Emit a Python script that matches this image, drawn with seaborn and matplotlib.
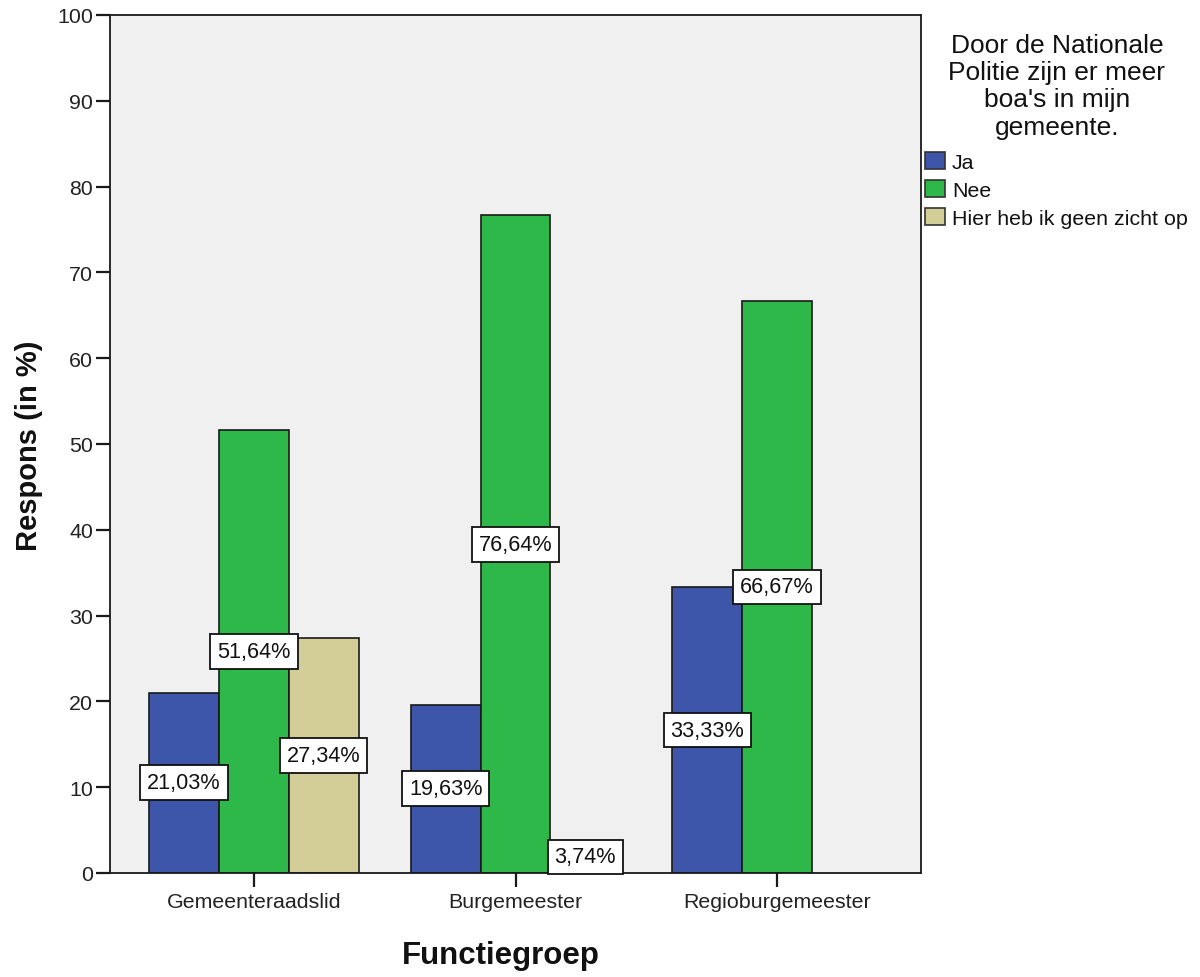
import numpy as np
import pandas as pd
import matplotlib
matplotlib.use("Agg")
import matplotlib.pyplot as plt
from matplotlib.patches import Patch
import seaborn as sns

# ---- data ----
categories = ["Gemeenteraadslid", "Burgemeester", "Regioburgemeester"]
responses = ["Ja", "Nee", "Hier heb ik geen zicht op"]
ja = [21.03, 19.63, 33.33]
nee = [51.64, 76.64, 66.67]
hier = [27.34, 3.74, np.nan]
colors = ["#3E56AA", "#2EB84A", "#D3CE97"]
yticks = list(range(0, 101, 10))
legend_title = "Door de Nationale\nPolitie zijn er meer\nboa's in mijn\ngemeente."

rows = []
for resp, vals in zip(responses, [ja, nee, hier]):
    for cat, v in zip(categories, vals):
        if not np.isnan(v):
            rows.append({"Functiegroep": cat, "Antwoord": resp, "Respons": v})
df = pd.DataFrame(rows)

sns.set_style("white")
plt.rcParams["font.family"] = ["Liberation Sans", "DejaVu Sans"]

fig = plt.figure(figsize=(12, 9.78), dpi=100)
ax = fig.add_axes([110 / 1200, 1 - 874 / 978, 811 / 1200, 858 / 978])

sns.barplot(data=df, x="Functiegroep", y="Respons", hue="Antwoord",
            order=categories, hue_order=responses, palette=colors,
            width=0.8, saturation=1, errorbar=None, edgecolor="#1a1a1a",
            linewidth=1.2, legend=False, ax=ax)

ax.set_facecolor("#F0F0F0")
ax.set_ylim(0, 100)
ax.set_xlim(-0.55, 2.55)
ax.set_yticks(yticks)
ax.set_yticklabels([str(t) for t in yticks])
for s in ax.spines.values():
    s.set_visible(True)
    s.set_color("#1a1a1a")
    s.set_linewidth(1.3)
ax.tick_params(axis="both", direction="out", length=10, width=1.6,
               labelsize=15.4, labelcolor="#222222", color="#1a1a1a",
               bottom=True, left=True, top=False, right=False)
ax.tick_params(axis="y", pad=2)
ax.tick_params(axis="x", pad=4)

# value labels
for container in ax.containers:
    for bar in container:
        h = bar.get_height()
        if h is None or np.isnan(h):
            continue
        xc = bar.get_x() + bar.get_width() / 2
        ax.text(xc, h / 2, f"{h:.2f}".replace(".", ",") + "%",
                ha="center", va="center", fontsize=15.6, color="#111111",
                zorder=6, clip_on=False,
                bbox=dict(boxstyle="square,pad=0.32", facecolor="white",
                          edgecolor="#111111", linewidth=1.3))

ax.set_xlabel("Functiegroep", fontsize=22.5, fontweight="bold", color="#111111")
ax.xaxis.set_label_coords(0.482, -0.078)
ax.set_ylabel("Respons (in %)", fontsize=21, fontweight="bold", color="#111111")
ax.yaxis.set_label_coords(-0.082, 0.499)

# legend title (centered block) and entries
fig.text(1057 / 1200, 1 - 34 / 978, legend_title, ha="center", va="top",
         fontsize=19, linespacing=1.17, multialignment="center", color="#111111")

handles = [Patch(facecolor=c, edgecolor="#333333", linewidth=1.2) for c in colors]
leg = fig.legend(handles, responses, loc="upper left",
                 bbox_to_anchor=(925 / 1200, 1 - 153 / 978), frameon=False,
                 fontsize=15.4, handlelength=0.93,
                 handleheight=0.84, handletextpad=0.33, labelspacing=0.38,
                 borderpad=0, borderaxespad=0)
for t in leg.get_texts():
    t.set_color("#111111")

fig.savefig("out.png", dpi=100)
